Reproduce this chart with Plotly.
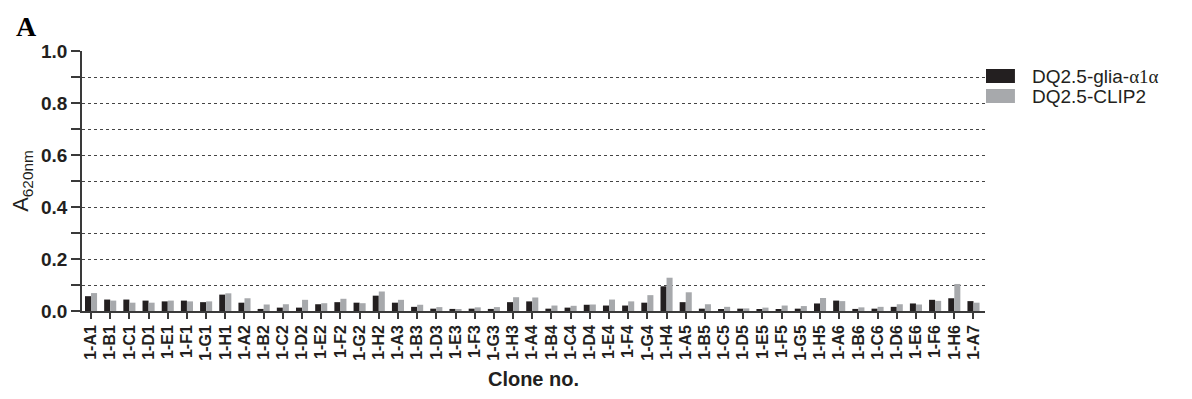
import plotly.graph_objects as go

clones = ["1-A1","1-B1","1-C1","1-D1","1-E1","1-F1","1-G1","1-H1",
          "1-A2","1-B2","1-C2","1-D2","1-E2","1-F2","1-G2","1-H2",
          "1-A3","1-B3","1-D3","1-E3","1-F3","1-G3","1-H3",
          "1-A4","1-B4","1-C4","1-D4","1-E4","1-F4","1-G4","1-H4",
          "1-A5","1-B5","1-C5","1-D5","1-E5","1-F5","1-G5","1-H5",
          "1-A6","1-B6","1-C6","1-D6","1-E6","1-F6","1-H6","1-A7"]

glia = [0.057,0.044,0.044,0.040,0.037,0.040,0.034,0.063,
        0.032,0.008,0.013,0.013,0.026,0.034,0.032,0.059,
        0.032,0.016,0.009,0.008,0.009,0.008,0.034,
        0.037,0.009,0.013,0.024,0.021,0.021,0.032,0.095,
        0.034,0.009,0.006,0.009,0.006,0.006,0.009,0.029,
        0.040,0.008,0.009,0.016,0.029,0.043,0.049,0.038]

clip2 = [0.069,0.040,0.032,0.032,0.040,0.037,0.037,0.068,
         0.049,0.025,0.026,0.043,0.030,0.047,0.030,0.075,
         0.043,0.024,0.015,0.006,0.014,0.015,0.053,
         0.052,0.021,0.020,0.025,0.044,0.037,0.061,0.128,
         0.072,0.026,0.016,0.010,0.013,0.021,0.019,0.050,
         0.038,0.014,0.016,0.026,0.025,0.039,0.104,0.032]

series_names = ["DQ2.5-glia-α1α", "DQ2.5-CLIP2"]
legend_labels = ["DQ2.5-glia-<span style='font-family:Liberation Serif'>α1α</span>", "DQ2.5-CLIP2"]
colors = ["#231f20", "#a7a9ac"]

fig = go.Figure()
fig.add_trace(go.Bar(x=clones, y=glia, name=series_names[0], marker_color=colors[0],
                     marker_line_width=0))
fig.add_trace(go.Bar(x=clones, y=clip2, name=series_names[1], marker_color=colors[1],
                     marker_line_width=0))

# page body has an 8px margin; plot area should span x 80..985, y 51..311 in the window
OFF = 8
W, H = 1192 - OFF, 399 - OFF
PL, PR, PT, PB = 80, 985, 51, 311
axis_col = "#3a3a3a"
fig.update_layout(
    width=W, height=H,
    margin=dict(l=PL - OFF, r=W + OFF - PR, t=PT - OFF, b=H + OFF - PB),
    plot_bgcolor="white", paper_bgcolor="white",
    barmode="group", bargap=0.37, bargroupgap=0,
    showlegend=False,
    font=dict(family="Liberation Sans, Arial", color="#231f20"),
)
fig.update_xaxes(
    range=[-0.47, 46.6],
    showline=True, linecolor=axis_col, linewidth=1.5,
    ticks="outside", ticklen=6, tickcolor=axis_col, tickwidth=1.5,
    tickangle=-90,
    tickfont=dict(family="Liberation Sans", size=16, color="#231f20", weight="bold"),
    showgrid=False,
    title=dict(text="<b>Clone no.</b>", font=dict(size=20, family="Liberation Sans"), standoff=12),
)
fig.update_yaxes(
    range=[0, 1.0],
    tickvals=[0, 0.2, 0.4, 0.6, 0.8, 1.0],
    tickformat=".1f",
    showline=True, linecolor=axis_col, linewidth=1.5,
    ticks="outside", ticklen=9, tickcolor=axis_col, tickwidth=1.5,
    tickfont=dict(family="Liberation Sans", size=19, color="#231f20", weight="bold"),
    showgrid=True, gridcolor="#444444", gridwidth=1, griddash="dot",
    zeroline=False,
    minor=dict(tickvals=[0.1, 0.3, 0.5, 0.7, 0.9], showgrid=True, gridcolor="#444444",
               gridwidth=1, griddash="dot", ticks="outside", ticklen=9,
               tickcolor=axis_col, tickwidth=1.5),
    title=dict(text="A<sub>620nm</sub>", font=dict(size=22, family="Liberation Sans"), standoff=6),
)

pw, ph = PR - PL, PB - PT
def px(x): return (x - PL) / pw
def py(y): return (PB - y) / ph

# custom legend
legend_y = [(69, 83), (89, 103)]
for (y0, y1), c, n in zip(legend_y, colors, legend_labels):
    fig.add_shape(type="rect", xref="paper", yref="paper",
                  x0=px(986), x1=px(1015), y0=py(y1), y1=py(y0),
                  fillcolor=c, line_width=0)
    fig.add_annotation(text=n, xref="paper", yref="paper",
                       x=px(1030), y=py((y0 + y1) / 2),
                       xanchor="left", yanchor="middle", showarrow=False,
                       font=dict(size=19, family="Liberation Sans", color="#231f20"))

fig.add_annotation(text="<b>A</b>", xref="paper", yref="paper",
                   x=px(12), y=py(9), xanchor="left", yanchor="top",
                   showarrow=False, font=dict(size=28, family="Liberation Serif", color="black"))

fig.write_html("out.html")
